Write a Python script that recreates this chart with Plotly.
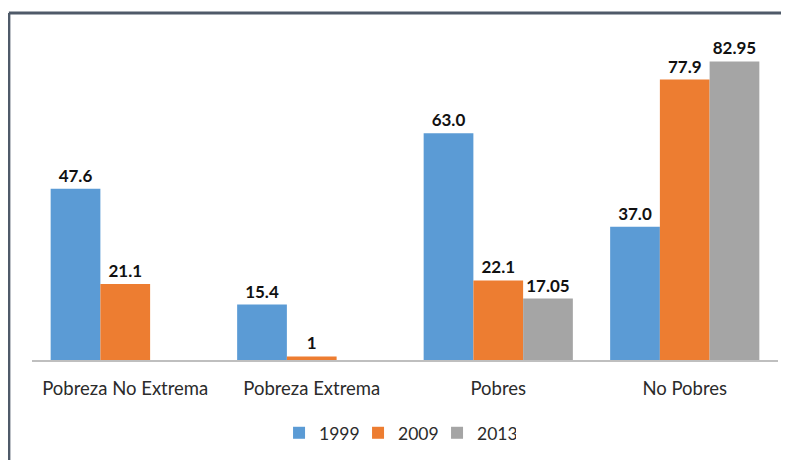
import plotly.graph_objects as go

categories = ['Pobreza No Extrema', 'Pobreza Extrema', 'Pobres', 'No Pobres']
years = ['1999', '2009', '2013']
values_1999 = [47.6, 15.4, 63.0, 37.0]
values_2009 = [21.1, 1, 22.1, 77.9]
values_2013 = [None, None, 17.05, 82.95]
labels_1999 = ['47.6', '15.4', '63.0', '37.0']
labels_2009 = ['21.1', '1', '22.1', '77.9']
labels_2013 = ['', '', '17.05', '82.95']

colors = ['#5b9bd5', '#ed7d31', '#a5a5a5']
series = [values_1999, values_2009, values_2013]
texts = [labels_1999, labels_2009, labels_2013]

FONT = 'Lato'

fig = go.Figure()
for i in range(3):
    fig.add_trace(go.Bar(
        x=categories, y=series[i], name=years[i],
        marker=dict(color=colors[i], line=dict(width=0)),
        text=texts[i], textposition='outside', cliponaxis=False,
        textfont=dict(family=FONT, size=17, color='#111111', weight='bold'),
    ))

# chart border (top and left edges only are visible)
fig.add_shape(type='line', xref='paper', yref='paper', x0=-0.031, x1=1.05, y0=1.071, y1=1.071,
              line=dict(color='#4f5a69', width=3))
fig.add_shape(type='line', xref='paper', yref='paper', x0=-0.031, x1=-0.031, y0=1.071, y1=-0.35,
              line=dict(color='#4f5a69', width=3))

# the page adds an 8px body margin, so margins are shifted up/left by 8px
fig.update_layout(
    width=789, height=460,
    margin=dict(l=24, r=19, t=28, b=108),
    barmode='group', bargap=0.2, bargroupgap=0,
    plot_bgcolor='white', paper_bgcolor='white',
    font=dict(family=FONT, color='#333333'),
    xaxis=dict(showline=True, linecolor='#bfbfbf', linewidth=1.5,
               tickfont=dict(size=18.5, color='#2b2b2b'), ticklabelstandoff=11),
    yaxis=dict(range=[0, 90], visible=False),
    legend=dict(orientation='h', xanchor='center', x=0.49, yanchor='middle', y=-0.225,
                font=dict(size=17.5, color='#2b2b2b'), traceorder='normal',
                itemwidth=30, entrywidth=34),
    showlegend=True,
)

fig.write_html("out.html")
